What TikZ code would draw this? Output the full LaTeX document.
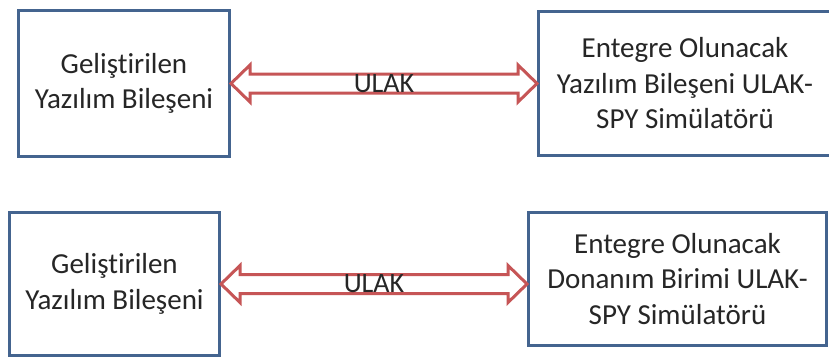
\documentclass[tikz,border=0pt]{standalone}
\usepackage{fontspec}
\setmainfont[RawFeature=-liga]{Carlito}
\usetikzlibrary{calc}
\definecolor{boxblue}{HTML}{44648F}
\definecolor{arrred}{HTML}{C65556}
\begin{document}
\begin{tikzpicture}[x=1pt,y=-1pt,
  box/.style={draw=boxblue,line width=3pt,fill=white,anchor=north west,inner sep=0pt,
    align=center,font=\fontsize{29}{35.5}\selectfont,text=black!85},
  dbl/.style={draw=arrred,line width=3pt,fill=white,line join=miter},
  lbl/.style={font=\fontsize{28}{34}\selectfont,text=black!85,inner sep=0pt}]
\useasboundingbox (0,0) rectangle (829,356);
\clip (0,0) rectangle (829,356);
\fill[white] (0,0) rectangle (829,356);
% top row
\node[box,minimum width=211pt,minimum height=146pt] (tl) at (17,9) {Geliştirilen\\Yazılım Bileşeni};
\node[box,minimum width=293pt,minimum height=144pt] (tr) at (537,10) {Entegre Olunacak\\Yazılım Bileşeni ULAK-\\SPY Simülatörü};
% bottom row
\node[box,minimum width=210pt,minimum height=143pt] (bl) at (8,211) {Geliştirilen\\Yazılım Bileşeni};
\node[box,minimum width=298pt,minimum height=133pt] (br) at (527,211) {Entegre Olunacak\\Donanım Birimi ULAK-\\SPY Simülatörü};
% arrows
\foreach \L/\R/\n in {tl/tr/t, bl/br/b}{
  \coordinate (a\n) at (\L.east);
  \coordinate (b\n) at (\R.west |- \L.east);
  \draw[dbl] (a\n) -- ($(a\n)+(19,-18.5)$) -- ($(a\n)+(19,-9.5)$) -- ($(b\n)+(-19,-9.5)$)
    -- ($(b\n)+(-19,-18.5)$) -- (b\n) -- ($(b\n)+(-19,18.5)$) -- ($(b\n)+(-19,9.5)$)
    -- ($(a\n)+(19,9.5)$) -- ($(a\n)+(19,18.5)$) -- cycle;
  \node[lbl] (u\n) at ($(a\n)!0.5!(b\n)+(0,0)$) {ULAK};
}
\end{tikzpicture}
\end{document}
